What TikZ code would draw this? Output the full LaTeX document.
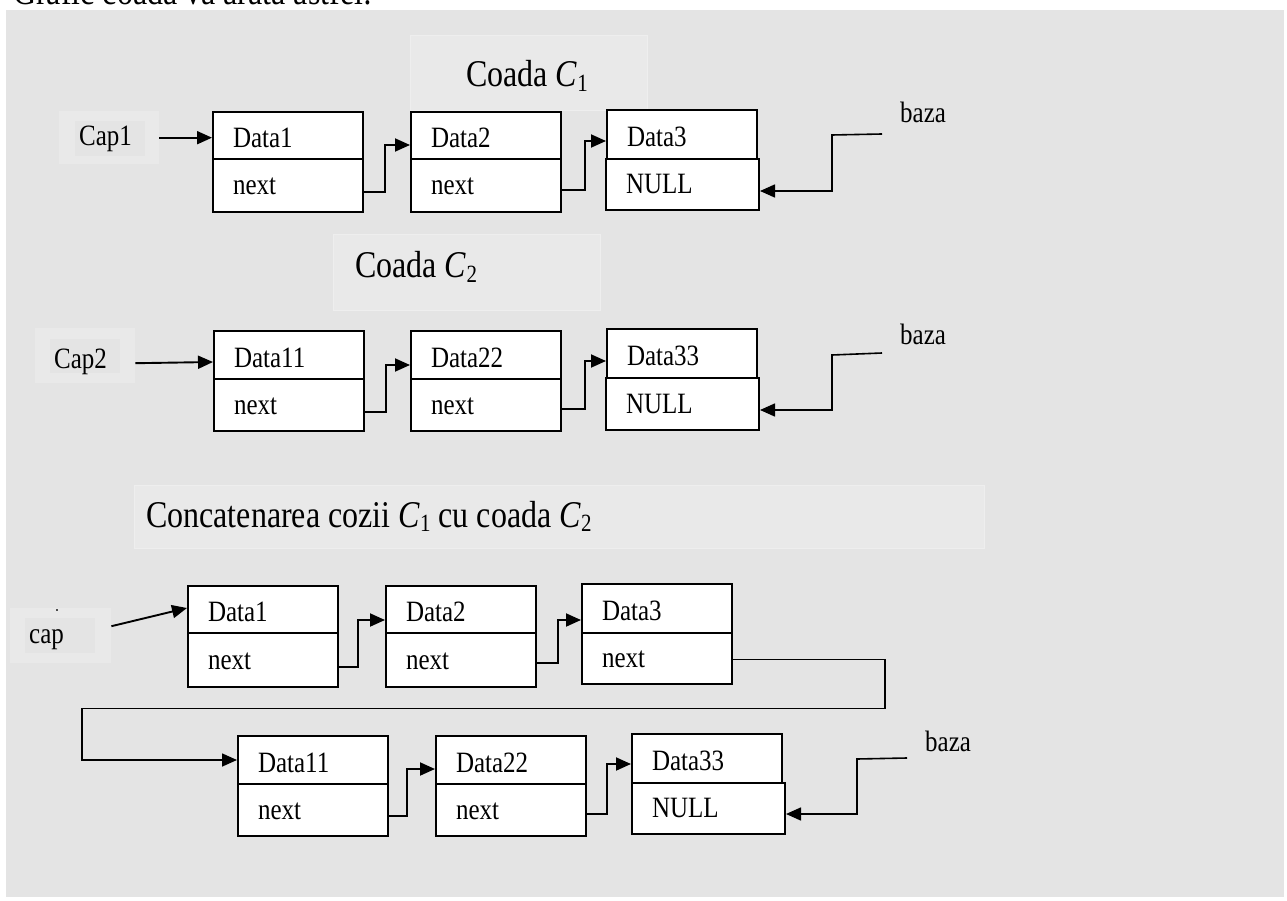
\documentclass[tikz,border=0pt]{standalone}
\usepackage{fontspec}
\usepackage{graphicx}
\setmainfont{Liberation Serif}
\usetikzlibrary{arrows.meta,calc}
\definecolor{bggray}{HTML}{E4E4E4}
\definecolor{boxgray}{HTML}{E9E9E9}
\definecolor{edgegray}{HTML}{EEEEEE}
\newcommand{\vst}[1]{\scalebox{1}[1.18]{#1}}
\newcommand{\subone}[1]{\raisebox{-4pt}{\fontsize{21}{21}\selectfont #1}}
\begin{document}
\begin{tikzpicture}[x=1pt,y=-1pt,
  cell/.style={draw=black, line width=2pt, fill=white, minimum width=150pt,
    text width=110pt, inner xsep=20pt, inner ysep=0pt, align=left,
    anchor=north west, font=\fontsize{25}{28}\selectfont},
  datacell/.style={cell, text height=24pt, text depth=0pt},
  ptrcell/.style={cell, text height=18pt, text depth=0pt},
  widecell/.style={minimum width=153pt, text width=113pt},
  titlebox/.style={fill=boxgray, draw=edgegray, line width=1pt, anchor=north west, inner sep=0pt},
  titletext/.style={anchor=base west, inner sep=0pt, font=\fontsize{32}{36}\selectfont},
  labelouter/.style={fill=boxgray, draw=none, anchor=north west, inner sep=0pt},
  labelinner/.style={fill=bggray, draw=none, anchor=north west, inner sep=0pt},
  labeltext/.style={anchor=base west, inner sep=0pt, font=\fontsize{25}{28}\selectfont},
  arr/.style={draw=black, line width=1.9pt, -{Triangle[length=15pt,width=13pt]}},
  thinarr/.style={arr, line width=1.6pt},
]
\useasboundingbox (0,0) rectangle (1287,901);
\fill[white] (0,0) rectangle (1287,901);
\fill[bggray] (6,10) rectangle (1284,897);
\begin{scope}
\clip (0,0) rectangle (1287,901);
\node[titletext] (intro) at (13,5) {\vst{Grafic coada va arăta astfel:}};
\end{scope}

% ---------- titles ----------
\node[titlebox, minimum width=237pt, minimum height=75pt] (t1box) at (410,35) {};
\node[titletext, anchor=base] (t1) at (527,87) {\vst{Coada \textit{C}\subone{1}}};
\node[titlebox, minimum width=267pt, minimum height=76pt] (t2box) at (333,234) {};
\node[titletext] (t2) at (355,278) {\vst{Coada \textit{C}\subone{2}}};
\node[titlebox, minimum width=850pt, minimum height=63pt] (t3box) at (134,485) {};
\node[titletext] (t3) at (146,527) {\vst{Concatenarea cozii \textit{C}\subone{1} cu coada \textit{C}\subone{2}}};

% ---------- head labels ----------
\node[labelouter, minimum width=100pt, minimum height=53pt] (cap1) at (59,111) {};
\node[labelinner, minimum width=70pt, minimum height=35pt] (cap1in) at (75,121) {};
\node[labeltext] (cap1t) at (79,146) {\vst{Cap1}};
\node[labelouter, minimum width=100pt, minimum height=55pt] (cap2) at (35,328) {};
\node[labelinner, minimum width=70pt, minimum height=34pt] (cap2in) at (50,339) {};
\node[labeltext] (cap2t) at (54,368) {\vst{Cap2}};
\node[labelouter, minimum width=101pt, minimum height=55pt] (cap) at (10,608) {};
\node[labelinner, minimum width=70pt, minimum height=35pt] (capin) at (25,618) {};
\node[labeltext] (capt) at (29,643) {\vst{cap}};
\fill[black!70] (55.5,608.5) rectangle (58,610.5);

% ---------- row 1 ----------
\node[datacell, minimum height=47pt] (a1) at (212,111) {\vst{Data1}};
\node[ptrcell, minimum height=53pt] (b1) at (212,158) {\vst{next}};
\node[datacell, minimum height=47pt] (a2) at (410,111) {\vst{Data2}};
\node[ptrcell, minimum height=53pt] (b2) at (410,158) {\vst{next}};
\node[datacell, minimum height=49pt] (a3) at (606,109) {\vst{Data3}};
\node[ptrcell, widecell, minimum height=51pt] (b3) at (605,158) {\vst{NULL}};
\node[labeltext] (baza1) at (900,123) {\vst{baza}};
\coordinate (bz1) at (882,134);

% ---------- row 2 ----------
\node[datacell, minimum height=48pt] (a11) at (213,330) {\vst{Data11}};
\node[ptrcell, minimum height=52pt] (b11) at (213,378) {\vst{next}};
\node[datacell, minimum height=48pt] (a22) at (410,330) {\vst{Data22}};
\node[ptrcell, minimum height=52pt] (b22) at (410,378) {\vst{next}};
\node[datacell, minimum height=49pt] (a33) at (606,328) {\vst{Data33}};
\node[ptrcell, widecell, minimum height=52pt] (b33) at (605,377) {\vst{NULL}};
\node[labeltext] (baza2) at (900,344) {\vst{baza}};
\coordinate (bz2) at (882,353);

% ---------- row 3 ----------
\node[datacell, minimum height=47pt] (r1a) at (187,585) {\vst{Data1}};
\node[ptrcell, minimum height=54pt] (r1b) at (187,632) {\vst{next}};
\node[datacell, minimum height=47pt] (r2a) at (385,585) {\vst{Data2}};
\node[ptrcell, minimum height=54pt] (r2b) at (385,632) {\vst{next}};
\node[datacell, minimum height=49pt] (r3a) at (581,583) {\vst{Data3}};
\node[ptrcell, minimum height=51pt] (r3b) at (581,632) {\vst{next}};

% ---------- row 4 ----------
\node[datacell, minimum height=48pt] (s1a) at (237,735) {\vst{Data11}};
\node[ptrcell, minimum height=52pt] (s1b) at (237,783) {\vst{next}};
\node[datacell, minimum height=48pt] (s2a) at (435,735) {\vst{Data22}};
\node[ptrcell, minimum height=52pt] (s2b) at (435,783) {\vst{next}};
\node[datacell, minimum height=49pt] (s3a) at (631,733) {\vst{Data33}};
\node[ptrcell, widecell, minimum height=51pt] (s3b) at (631,782) {\vst{NULL}};
\node[labeltext] (baza3) at (925,751) {\vst{baza}};
\coordinate (bz3) at (907,758);

% ---------- connectors ----------
\draw[arr] (cap1.east) -- (cap1.east -| a1.west);
\draw[arr] ($(b1.east)+(0,6.5)$) -- ++(21,0) |- ($(a2.west)+(0,9.5)$);
\draw[arr] ($(b2.east)+(0,4.5)$) -- ++(23,0) |- ($(a3.west)+(0,6.5)$);
\draw[thinarr] (bz1) -- ++(-50,1) |- ($(b3.east)+(0,6.5)$);

\draw[arr] ($(cap2.east)+(0,7.5)$) -- ($(a11.west)+(0,7)$);
\draw[arr] ($(b11.east)+(0,7)$) -- ++(21,0) |- ($(a22.west)+(0,10)$);
\draw[arr] ($(b22.east)+(0,4)$) -- ++(23,0) |- ($(a33.west)+(0,7.5)$);
\draw[thinarr] (bz2) -- ++(-50,2) |- ($(b33.east)+(0,6)$);

\draw[arr] ($(cap.east)+(0,-9.5)$) -- ($(r1a.west)+(0,-1.5)$);
\draw[arr] ($(r1b.east)+(0,7)$) -- ++(19,0) |- ($(r2a.west)+(0,10.5)$);
\draw[arr] ($(r2b.east)+(0,3)$) -- ++(21,0) |- ($(r3a.west)+(0,11.5)$);
\draw[thinarr] ($(r3b.east)+(0,1)$) -- ++(152,0) -- ++(0,49) -| ($(s1a.west)+(-155,0)$) -- (s1a.west);

\draw[arr] ($(s1b.east)+(0,6)$) -- ++(18,0) |- ($(s2a.west)+(0,9)$);
\draw[arr] ($(s2b.east)+(0,4)$) -- ++(20,0) |- ($(s3a.west)+(0,5.5)$);
\draw[thinarr] (bz3) -- ++(-50,1) |- ($(s3b.east)+(0,5.5)$);
\end{tikzpicture}
\end{document}
